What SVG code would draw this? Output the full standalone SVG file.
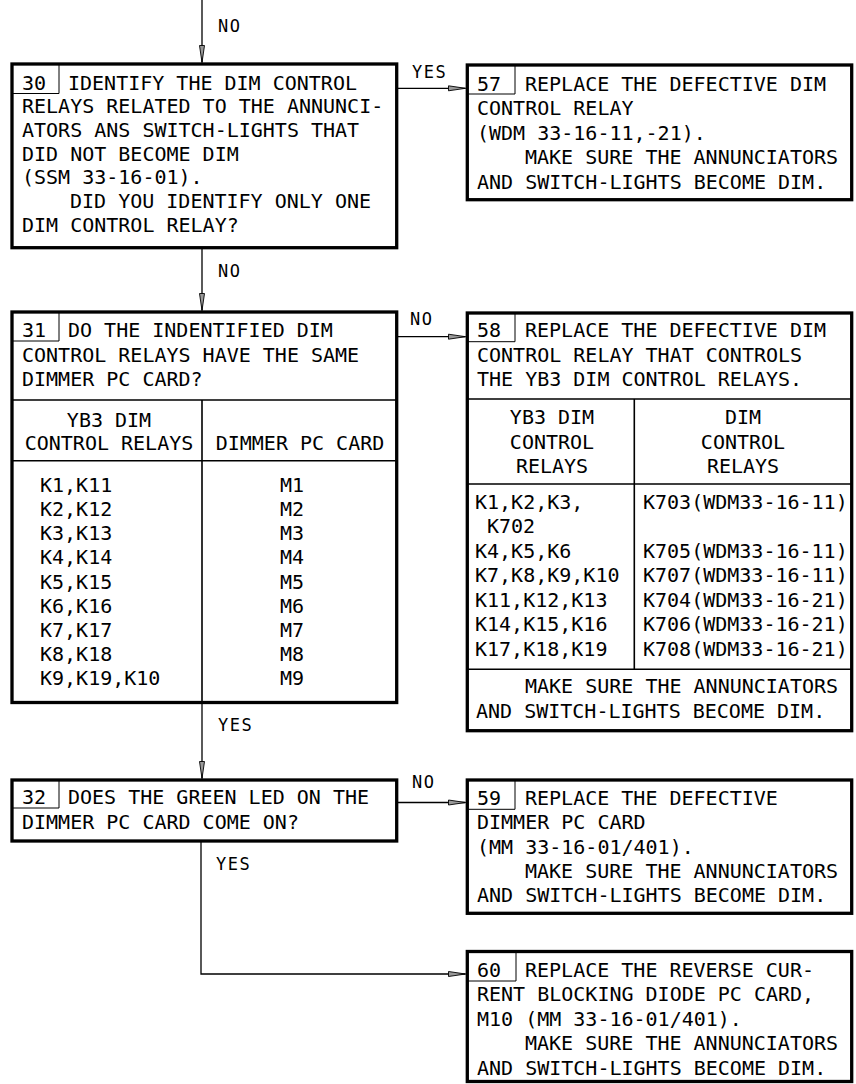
<svg xmlns="http://www.w3.org/2000/svg" width="856" height="1084" viewBox="0 0 856 1084">
<style>
.box{fill:#fff;stroke:#000;stroke-width:3.3}
.nb{fill:none;stroke:#000;stroke-width:1}
.sep{fill:none;stroke:#000;stroke-width:1.6}
.conn{fill:none;stroke:#000;stroke-width:1.3}
text{font-family:'DejaVu Sans Mono','Liberation Mono',monospace;font-size:20px;fill:#000}
text.lbl{font-size:17px;letter-spacing:1.5px}
.m{text-anchor:middle}
</style>
<defs>
<marker id="arr" viewBox="0 0 17 7" refX="17" refY="3.5" markerWidth="17" markerHeight="7" markerUnits="userSpaceOnUse" orient="auto" overflow="visible">
<path d="M0,1 L17,3.5 L0,6 Z" fill="#999" stroke="#000" stroke-width="0.9"/>
</marker>
</defs>
<rect width="856" height="1084" fill="#fff"/>

<g id="connectors">
<path class="conn" d="M202,0 V62.5" marker-end="url(#arr)"/>
<path class="conn" d="M397,88.3 H465.5" marker-end="url(#arr)"/>
<path class="conn" d="M202,248 V310.5" marker-end="url(#arr)"/>
<path class="conn" d="M396.7,336.7 H465.5" marker-end="url(#arr)"/>
<path class="conn" d="M202,703 V778.5" marker-end="url(#arr)"/>
<path class="conn" d="M396.7,802.5 H465.5" marker-end="url(#arr)"/>
<path class="conn" d="M201,841 V974 H465.5" marker-end="url(#arr)"/>
<text class="lbl" x="218" y="32">NO</text>
<text class="lbl" x="412" y="78">YES</text>
<text class="lbl" x="218" y="277">NO</text>
<text class="lbl" x="410" y="325">NO</text>
<text class="lbl" x="218" y="731">YES</text>
<text class="lbl" x="412" y="788">NO</text>
<text class="lbl" x="216" y="870">YES</text>
</g>

<g id="node30">
<rect class="box" x="12" y="64" width="384.7" height="183.7"/>
<path class="nb" d="M12,93.5 H59 V64"/>
<text x="22" y="89.5">30</text>
<text x="68" y="89.5">IDENTIFY THE DIM CONTROL</text>
<text x="22" y="113.2">RELAYS RELATED TO THE ANNUNCI-</text>
<text x="22" y="136.9">ATORS ANS SWITCH-LIGHTS THAT</text>
<text x="22" y="160.6">DID NOT BECOME DIM</text>
<text x="22" y="184.3">(SSM 33-16-01).</text>
<text x="70" y="208">DID YOU IDENTIFY ONLY ONE</text>
<text x="22" y="231.7">DIM CONTROL RELAY?</text>
</g>

<g id="node57">
<rect class="box" x="467.3" y="65" width="384.4" height="134.7"/>
<path class="nb" d="M467.3,94 H515 V65"/>
<text x="477" y="90.5">57</text>
<text x="525" y="90.5">REPLACE THE DEFECTIVE DIM</text>
<text x="477" y="115">CONTROL RELAY</text>
<text x="477" y="139.5">(WDM 33-16-11,-21).</text>
<text x="525" y="164">MAKE SURE THE ANNUNCIATORS</text>
<text x="477" y="188.5">AND SWITCH-LIGHTS BECOME DIM.</text>
</g>

<g id="node31">
<rect class="box" x="12" y="312" width="384.7" height="390.5"/>
<path class="nb" d="M12,341 H59 V312"/>
<path class="sep" d="M12,400 H396.7 M12,460.7 H396.7 M202,400 V702.5"/>
<text x="22" y="337">31</text>
<text x="68" y="337">DO THE INDENTIFIED DIM</text>
<text x="22" y="361.5">CONTROL RELAYS HAVE THE SAME</text>
<text x="22" y="386">DIMMER PC CARD?</text>
<text class="m" x="109" y="427">YB3 DIM</text>
<text class="m" x="109" y="450">CONTROL RELAYS</text>
<text class="m" x="300" y="450">DIMMER PC CARD</text>
<text x="40" y="491.7">K1,K11</text>
<text x="40" y="515.9">K2,K12</text>
<text x="40" y="540.1">K3,K13</text>
<text x="40" y="564.3">K4,K14</text>
<text x="40" y="588.5">K5,K15</text>
<text x="40" y="612.7">K6,K16</text>
<text x="40" y="636.9">K7,K17</text>
<text x="40" y="661.1">K8,K18</text>
<text x="40" y="685.3">K9,K19,K10</text>
<text x="280" y="491.7">M1</text>
<text x="280" y="515.9">M2</text>
<text x="280" y="540.1">M3</text>
<text x="280" y="564.3">M4</text>
<text x="280" y="588.5">M5</text>
<text x="280" y="612.7">M6</text>
<text x="280" y="636.9">M7</text>
<text x="280" y="661.1">M8</text>
<text x="280" y="685.3">M9</text>
</g>

<g id="node58">
<rect class="box" x="467.3" y="313" width="384.4" height="417.7"/>
<path class="nb" d="M467.3,341.7 H515 V313"/>
<path class="sep" d="M467.3,399 H851.7 M467.3,484 H851.7 M467.3,669.3 H851.7 M634.3,399 V669.3"/>
<text x="477" y="337">58</text>
<text x="525" y="337">REPLACE THE DEFECTIVE DIM</text>
<text x="477" y="361.5">CONTROL RELAY THAT CONTROLS</text>
<text x="477" y="386">THE YB3 DIM CONTROL RELAYS.</text>
<text class="m" x="552" y="424">YB3 DIM</text>
<text class="m" x="552" y="449">CONTROL</text>
<text class="m" x="552" y="473">RELAYS</text>
<text class="m" x="743" y="424">DIM</text>
<text class="m" x="743" y="449">CONTROL</text>
<text class="m" x="743" y="473">RELAYS</text>
<text x="475" y="509.3">K1,K2,K3,</text>
<text x="487" y="533.3">K702</text>
<text x="475" y="557.5">K4,K5,K6</text>
<text x="475" y="582">K7,K8,K9,K10</text>
<text x="475" y="606.5">K11,K12,K13</text>
<text x="475" y="631">K14,K15,K16</text>
<text x="475" y="655.5">K17,K18,K19</text>
<text x="643" y="509.3">K703(WDM33-16-11)</text>
<text x="643" y="557.5">K705(WDM33-16-11)</text>
<text x="643" y="582">K707(WDM33-16-11)</text>
<text x="643" y="606.5">K704(WDM33-16-21)</text>
<text x="643" y="631">K706(WDM33-16-21)</text>
<text x="643" y="655.5">K708(WDM33-16-21)</text>
<text x="525" y="693.3">MAKE SURE THE ANNUNCIATORS</text>
<text x="476" y="718">AND SWITCH-LIGHTS BECOME DIM.</text>
</g>

<g id="node32">
<rect class="box" x="12" y="780" width="384.7" height="61"/>
<path class="nb" d="M12,808 H59 V780"/>
<text x="22" y="804">32</text>
<text x="68" y="804">DOES THE GREEN LED ON THE</text>
<text x="22" y="829">DIMMER PC CARD COME ON?</text>
</g>

<g id="node59">
<rect class="box" x="467.3" y="780" width="384.4" height="133.3"/>
<path class="nb" d="M467.3,809.3 H515 V780"/>
<text x="477" y="805">59</text>
<text x="525" y="805">REPLACE THE DEFECTIVE</text>
<text x="477" y="829">DIMMER PC CARD</text>
<text x="477" y="853.5">(MM 33-16-01/401).</text>
<text x="525" y="878">MAKE SURE THE ANNUNCIATORS</text>
<text x="477" y="902">AND SWITCH-LIGHTS BECOME DIM.</text>
</g>

<g id="node60">
<rect class="box" x="467.3" y="951.5" width="384.4" height="130"/>
<path class="nb" d="M467.3,981 H516 V951.5"/>
<text x="477" y="976.5">60</text>
<text x="525" y="976.5">REPLACE THE REVERSE CUR-</text>
<text x="477" y="1001">RENT BLOCKING DIODE PC CARD,</text>
<text x="477" y="1025.5">M10 (MM 33-16-01/401).</text>
<text x="525" y="1050">MAKE SURE THE ANNUNCIATORS</text>
<text x="477" y="1074.5">AND SWITCH-LIGHTS BECOME DIM.</text>
</g>
</svg>
